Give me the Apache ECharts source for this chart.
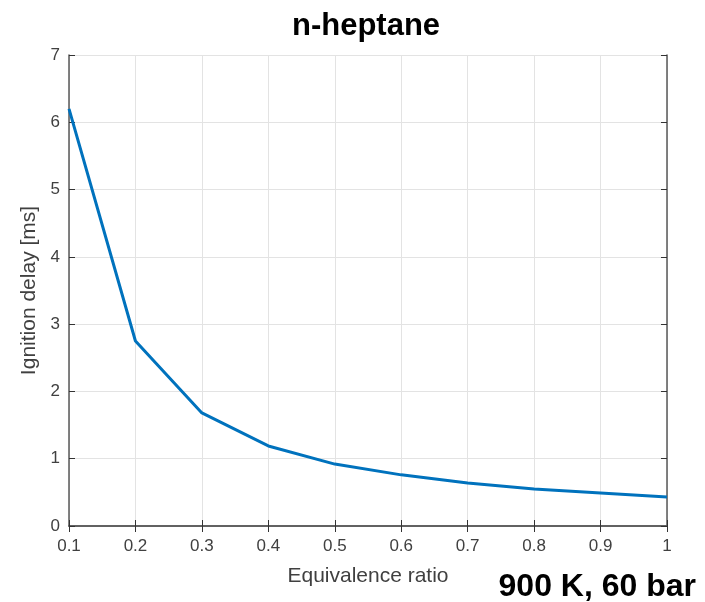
<!DOCTYPE html>
<html>
<head>
<meta charset="utf-8">
<script src="https://cdn.jsdelivr.net/npm/echarts@6/dist/echarts.min.js"></script>
<style>html,body{margin:0;padding:0;background:#fff;}#c{width:705px;height:602px;}</style>
</head>
<body>
<div id="c"></div>
<script>
var phi = [0.1, 0.2, 0.3, 0.4, 0.5, 0.6, 0.7, 0.8, 0.9, 1.0];
var delay = [6.2, 2.75, 1.68, 1.19, 0.92, 0.76, 0.64, 0.55, 0.49, 0.43];
var titleText = 'n-heptane';
var noteText = '900 K, 60 bar';
var xName = 'Equivalence ratio';
var yName = 'Ignition delay [ms]';

var chart = echarts.init(document.getElementById('c'));
var ff = 'Liberation Sans, Arial, sans-serif';
var axisCol = '#595959';
var lab = {color: '#404040', fontSize: 17, fontFamily: ff};
var tick = {show: true, inside: true, length: 6, lineStyle: {color: '#333', width: 1}};
chart.setOption({
  animation: false,
  title: [{
    text: titleText, left: 361, top: 6, textAlign: 'center',
    textStyle: {fontSize: 31, fontWeight: 'bold', color: '#000', fontFamily: ff}
  }, {
    text: noteText, left: 691, top: 566, textAlign: 'right',
    textStyle: {fontSize: 32, fontWeight: 'bold', color: '#000', fontFamily: ff}
  }],
  grid: {left: 69, right: 38, top: 55, bottom: 76, containLabel: false},
  xAxis: [{
    type: 'value', min: 0.1, max: 1, interval: 0.1,
    name: xName, nameLocation: 'middle', nameGap: 40,
    nameTextStyle: {color: '#404040', fontSize: 21, fontFamily: ff},
    axisLine: {show: true, lineStyle: {color: axisCol, width: 1.5}},
    axisTick: tick,
    axisLabel: Object.assign({margin: 12, formatter: function(v){return String(Math.round(v*10)/10);}}, lab),
    splitLine: {show: true, lineStyle: {color: '#e3e3e3', width: 1}}
  }, {
    type: 'value', min: 0.1, max: 1, interval: 0.1, position: 'top',
    axisLine: {show: true, lineStyle: {color: axisCol, width: 1.5}},
    axisTick: tick,
    axisLabel: {show: false}, splitLine: {show: false}
  }],
  yAxis: [{
    type: 'value', min: 0, max: 7, interval: 1,
    name: yName, nameLocation: 'middle', nameGap: 22,
    nameTextStyle: {color: '#404040', fontSize: 21, fontFamily: ff},
    axisLine: {show: true, lineStyle: {color: axisCol, width: 1.5}},
    axisTick: tick,
    axisLabel: Object.assign({margin: 9}, lab),
    splitLine: {show: true, lineStyle: {color: '#e3e3e3', width: 1}}
  }, {
    type: 'value', min: 0, max: 7, interval: 1, position: 'right',
    axisLine: {show: true, lineStyle: {color: axisCol, width: 1.5}},
    axisTick: tick,
    axisLabel: {show: false}, splitLine: {show: false}
  }],
  series: [{
    type: 'line',
    data: phi.map(function(x, i){ return [x, delay[i]]; }),
    showSymbol: false, symbol: 'none',
    lineStyle: {color: '#0072BD', width: 3},
    z: 5
  }]
});
</script>
</body>
</html>
